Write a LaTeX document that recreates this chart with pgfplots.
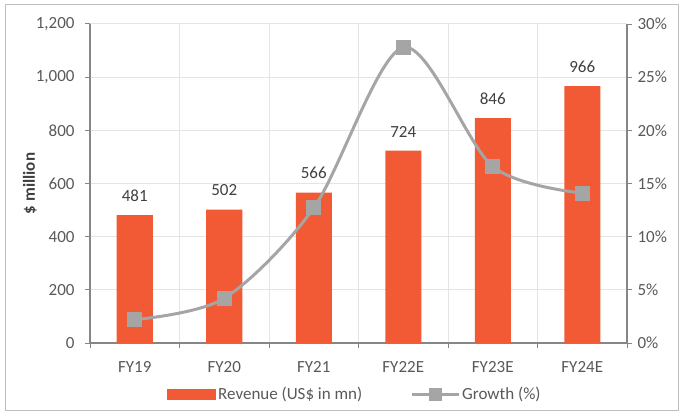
\documentclass[border=0pt]{standalone}
\usepackage{pgfplots}
\pgfplotsset{compat=1.18}
\usepackage{fontspec}
\setmainfont{Carlito}
\definecolor{barc}{RGB}{241,90,52}
\definecolor{linec}{RGB}{165,165,165}
\definecolor{tickc}{RGB}{89,89,89}
\definecolor{axc}{RGB}{134,134,134}
\definecolor{gridc}{RGB}{228,228,228}
\definecolor{lblc}{RGB}{64,64,64}
\newcommand{\cf}{\fontsize{17bp}{19bp}\selectfont}
\begin{document}
\begin{tikzpicture}
\useasboundingbox (0,0) rectangle (680bp,413bp);
\draw[gray!50, line width=1bp] (5bp,2bp) rectangle (678bp,408bp);
\begin{axis}[
  at={(90bp,70bp)}, anchor=south west,
  width=537bp, height=319bp, scale only axis,
  xmin=-0.5, xmax=5.5, ymin=0, ymax=1200,
  axis y line*=left, axis x line*=bottom,
  axis line style={axc, line width=1.2bp},
  xtick={0,...,5}, xticklabels={FY19,FY20,FY21,FY22E,FY23E,FY24E},
  major x tick style={draw=none},
  minor xtick={-0.5,0.5,1.5,2.5,3.5,4.5,5.5},
  xminorgrids=true, minor grid style={gridc, line width=1bp},
  ytick={0,200,...,1200}, ymajorgrids=true, major grid style={gridc, line width=1bp},
  tick align=outside, major tick length=5bp, minor tick length=5bp,
  tick style={axc, line width=1bp},
  ticklabel style={font=\cf, text=tickc},
  xticklabel style={yshift=-10bp},
  yticklabel style={xshift=-7bp},
  /pgf/number format/1000 sep={,},
  /pgf/number format/assume math mode=true,
  ylabel={\$ million},
  ylabel style={font=\bfseries\cf, text=lblc, at={(axis description cs:-0.112,0.5)}, anchor=center},
  legend style={at={(0.1434,-0.16)}, anchor=west, draw=none, fill=none,
    inner sep=0pt, font=\cf, text=tickc},
]
\addplot[ybar, bar width=36bp, fill=barc, draw=none,
  nodes near coords,
  every node near coord/.append style={font=\cf, text=lblc, yshift=10bp},
  legend image code/.code={\fill[barc] (0bp,-5.5bp) rectangle (49bp,5.5bp);}]
  coordinates {(0,481) (1,502) (2,566) (3,724) (4,846) (5,966)};
\addlegendentry{Revenue (US\$ in mn)}
\end{axis}
\begin{axis}[
  at={(90bp,70bp)}, anchor=south west,
  width=537bp, height=319bp, scale only axis,
  xmin=-0.5, xmax=5.5, ymin=0, ymax=30,
  axis y line*=right, axis x line=none,
  axis line style={axc, line width=1.2bp},
  ytick={0,5,...,30}, yticklabel={\pgfmathprintnumber{\tick}\%},
  tick align=outside, major tick length=5bp,
  tick style={axc, line width=1bp},
  ticklabel style={font=\cf, text=tickc},
  yticklabel style={xshift=2bp},
  /pgf/number format/assume math mode=true,
  legend style={at={(0.5959,-0.16)}, anchor=west, draw=none, fill=none,
    inner sep=0pt, font=\cf, text=tickc},
]
\addlegendimage{legend image code/.code={\draw[linec, line width=3bp] (0bp,0bp) -- (47bp,0bp); \fill[linec] (17.5bp,-6bp) rectangle (29.5bp,6bp);}}
\addlegendentry{Growth (\%)}
\addplot[linec, line width=3bp, smooth, mark=square*, mark size=6bp,
  mark options={draw=none, fill=linec}, forget plot]
  coordinates {(0,2.2) (1,4.2) (2,12.7) (3,27.8) (4,16.6) (5,14.1)};
\end{axis}
\end{tikzpicture}
\end{document}
